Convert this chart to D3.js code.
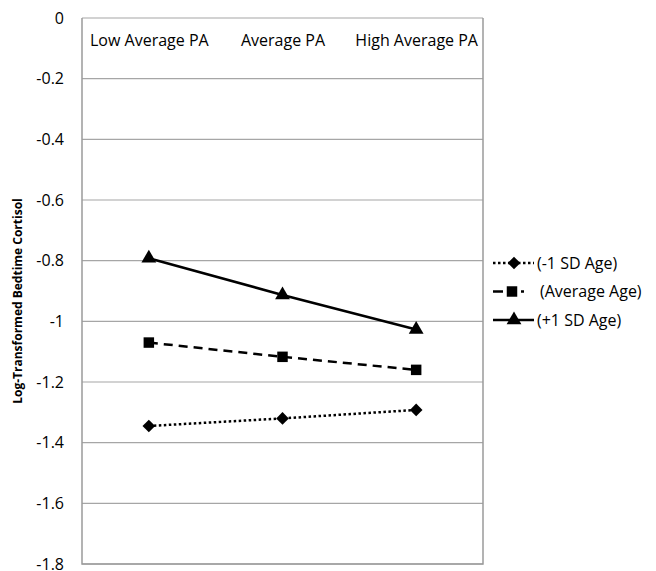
<!DOCTYPE html>
<html>
<head>
<meta charset="utf-8">
<script src="https://cdn.jsdelivr.net/npm/d3@7"></script>
<style>
  body { margin: 0; background: #fff; }
  text { font-family: "Open Sans", sans-serif; fill: #000; }
</style>
</head>
<body>
<div id="chart"></div>
<script>
// categories and series
var categories = ["Low Average PA", "Average PA", "High Average PA"];
var seriesNames = ["(-1 SD Age)", "(Average Age)", "(+1 SD Age)"];
var lowAge = [-1.345, -1.32, -1.292];
var avgAge = [-1.07, -1.117, -1.16];
var highAge = [-0.792, -0.913, -1.027];
var yTicks = [0, -0.2, -0.4, -0.6, -0.8, -1, -1.2, -1.4, -1.6, -1.8];

function Plot() {
    var svgWidth = 656;
    var svgHeight = 571;

    var margin = {top: 18, right: 173, bottom: 7, left: 82};
    var width = svgWidth - margin.left - margin.right;
    var height = svgHeight - margin.top - margin.bottom;

    var svg = d3.select("#chart")
        .append("svg")
        .attr("width", svgWidth)
        .attr("height", svgHeight);

    var g = svg.append("g")
        .attr("transform", `translate(${margin.left}, ${margin.top})`);

    var x = d3.scalePoint()
        .domain(categories)
        .range([0, width])
        .padding(0.5);

    var y = d3.scaleLinear()
        .domain([-1.8, 0])
        .range([height, 0]);

    // gridlines
    g.selectAll(".grid")
        .data(yTicks)
        .enter()
        .append("line")
        .attr("x1", 0)
        .attr("x2", width)
        .attr("y1", d => y(d))
        .attr("y2", d => y(d))
        .attr("stroke", "#a6a6a6")
        .attr("stroke-width", 1.2);

    // plot border (left, right, bottom)
    g.append("path")
        .attr("d", `M0,0V${height}H${width}V0`)
        .attr("fill", "none")
        .attr("stroke", "#9a9a9a")
        .attr("stroke-width", 1.5);

    // y axis labels
    var yAxis = d3.axisLeft(y)
        .tickValues(yTicks)
        .tickSize(0)
        .tickPadding(18)
        .tickFormat(d => d === 0 ? "0" : (d === -1 ? "-1" : d.toFixed(1)));

    var ya = g.append("g").call(yAxis);
    ya.select(".domain").remove();
    ya.selectAll("text")
        .attr("font-family", "'Open Sans', sans-serif")
        .attr("font-size", "16px")
        .attr("fill", "#000");

    // category labels along the top
    var xAxis = d3.axisTop(x).tickSize(0).tickPadding(-28);
    var xa = g.append("g").call(xAxis);
    xa.select(".domain").remove();
    xa.selectAll("text")
        .attr("font-family", "'Open Sans', sans-serif")
        .attr("font-size", "16px")
        .attr("fill", "#000");

    // axis title
    svg.append("text")
        .attr("transform", "translate(22, 301) rotate(-90)")
        .attr("text-anchor", "middle")
        .attr("font-size", "12px")
        .attr("font-weight", "bold")
        .text("Log-Transformed Bedtime Cortisol");

    var series = [
        {name: seriesNames[0], values: lowAge, dash: "2.5,2.5", marker: d3.symbolSquare, size: 80, rot: 45},
        {name: seriesNames[1], values: avgAge, dash: "9,6", marker: d3.symbolSquare, size: 110, rot: 0},
        {name: seriesNames[2], values: highAge, dash: null, marker: d3.symbolTriangle, size: 95, rot: 0}
    ];

    var line = d3.line()
        .x((d, i) => x(categories[i]))
        .y(d => y(d));

    series.forEach(function(s) {
        g.append("path")
            .datum(s.values)
            .attr("d", line)
            .attr("fill", "none")
            .attr("stroke", "#000")
            .attr("stroke-width", 2.5)
            .attr("stroke-dasharray", s.dash);

        g.selectAll(null)
            .data(s.values)
            .enter()
            .append("path")
            .attr("d", d3.symbol().type(s.marker).size(s.size))
            .attr("transform", (d, i) => `translate(${x(categories[i])}, ${y(d)}) rotate(${s.rot})`)
            .attr("fill", "#000");
    });

    // legend
    var legend = svg.append("g")
        .attr("transform", "translate(493, 263)");

    var rows = legend.selectAll("g")
        .data(series)
        .enter()
        .append("g")
        .attr("transform", (d, i) => `translate(0, ${i * 28.5})`);

    rows.append("line")
        .attr("x1", 0)
        .attr("x2", (d, i) => i === 1 ? 31 : 41)
        .attr("y1", 0)
        .attr("y2", 0)
        .attr("stroke", "#000")
        .attr("stroke-width", 2.5)
        .attr("stroke-dasharray", (d, i) => i === 0 ? "2.5,2.5" : (i === 1 ? "10,4" : null));

    rows.append("path")
        .attr("d", d => d3.symbol().type(d.marker).size(d.size)())
        .attr("transform", (d, i) => `translate(${i === 1 ? 19 : 21}, 0) rotate(${d.rot})`)
        .attr("fill", "#000");

    rows.append("text")
        .attr("x", (d, i) => i === 1 ? 47 : 44)
        .attr("dy", "0.35em")
        .attr("font-size", "16px")
        .text(d => d.name);
}

Plot();
</script>
</body>
</html>
